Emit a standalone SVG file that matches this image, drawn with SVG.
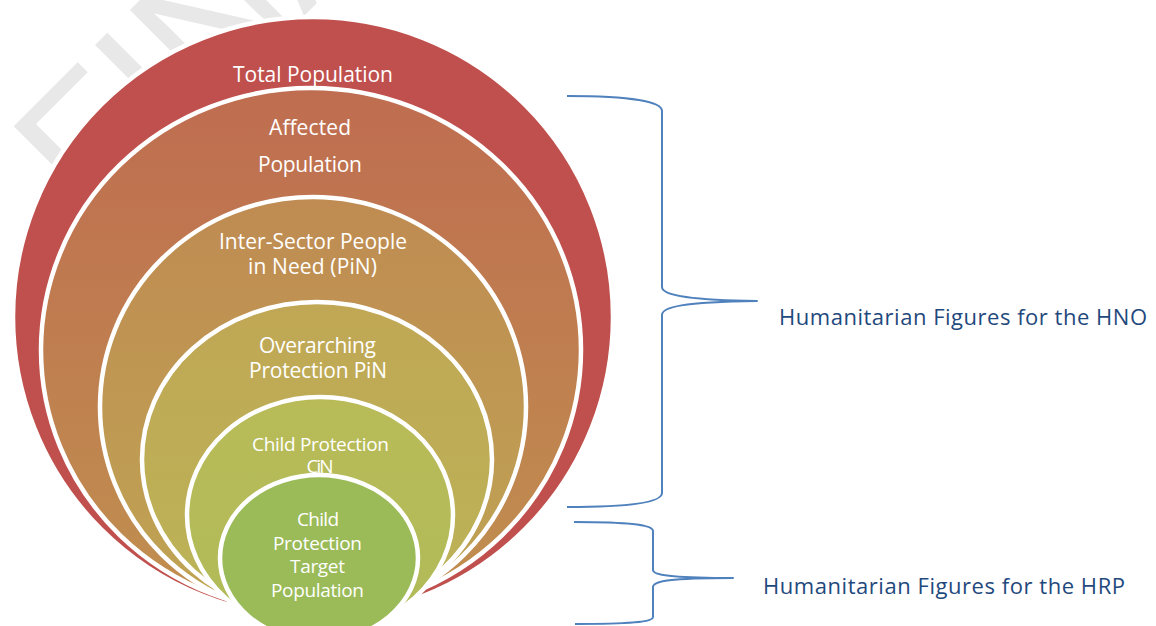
<svg xmlns="http://www.w3.org/2000/svg" width="1156" height="626" viewBox="0 0 1156 626">
  <defs>
    <linearGradient id="g-affected" x1="0" y1="0" x2="0" y2="1">
      <stop offset="0" stop-color="#BF6D50"/>
      <stop offset="1" stop-color="#C0904F"/>
    </linearGradient>
    <linearGradient id="g-intersector" x1="0" y1="0" x2="0" y2="1">
      <stop offset="0" stop-color="#BF8B52"/>
      <stop offset="1" stop-color="#BFA553"/>
    </linearGradient>
    <linearGradient id="g-overarching" x1="0" y1="0" x2="0" y2="1">
      <stop offset="0" stop-color="#C0A755"/>
      <stop offset="1" stop-color="#BBB457"/>
    </linearGradient>
    <linearGradient id="g-cin" x1="0" y1="0" x2="0" y2="1">
      <stop offset="0" stop-color="#B8BB58"/>
      <stop offset="1" stop-color="#B0BB58"/>
    </linearGradient>
  </defs>
  <style>
    .ring { stroke: #FFFFFF; stroke-width: 4.5; }
    .lbl { font-family: "Open Sans", "Liberation Sans", sans-serif; font-size: 21px; fill: #FFFFFF; text-anchor: middle; }
    .lbl-s { font-size: 19px; }
    .side { font-family: "Open Sans", "Liberation Sans", sans-serif; font-size: 22px; fill: #1F497D; }
    .brace { fill: none; stroke: #4F81BD; stroke-width: 2; stroke-linejoin: round; }
    .mark { font-family: "Liberation Sans", sans-serif; font-size: 185px; fill: #E8E8E8; }
  </style>

  <rect width="1156" height="626" fill="#FFFFFF"/>

  <!-- faint background stamp -->
  <g id="watermark">
    <text class="mark" transform="translate(93,227) rotate(-45)">FINAL</text>
  </g>

  <!-- nested population rings, outermost first -->
  <g id="node-total">
    <circle class="ring" cx="313" cy="317" r="300" fill="#C0504D"/>
    <text class="lbl" x="313" y="82" textLength="160">Total Population</text>
  </g>

  <g id="node-affected">
    <ellipse class="ring" cx="311" cy="350" rx="270" ry="262" fill="url(#g-affected)"/>
    <text class="lbl" x="310" y="135" textLength="82">Affected</text>
    <text class="lbl" x="310" y="172" textLength="104">Population</text>
  </g>

  <g id="node-intersector">
    <ellipse class="ring" cx="313" cy="406.8" rx="213" ry="209.8" fill="url(#g-intersector)"/>
    <text class="lbl" x="313" y="249" textLength="188">Inter-Sector People</text>
    <text class="lbl" x="312.5" y="274" textLength="129">in Need (PiN)</text>
  </g>

  <g id="node-overarching">
    <ellipse class="ring" cx="317" cy="459.5" rx="175" ry="157.5" fill="url(#g-overarching)"/>
    <text class="lbl" x="317.5" y="353" textLength="117">Overarching</text>
    <text class="lbl" x="318" y="378" textLength="138">Protection PiN</text>
  </g>

  <g id="node-cin">
    <ellipse class="ring" cx="320" cy="515" rx="133" ry="118" fill="url(#g-cin)"/>
    <text class="lbl lbl-s" x="320.5" y="451" textLength="137">Child Protection</text>
    <text class="lbl lbl-s" x="320" y="473" textLength="27">CiN</text>
  </g>

  <g id="node-target">
    <ellipse class="ring" cx="319" cy="558" rx="99" ry="83" fill="#9BBB59"/>
    <text class="lbl lbl-s" x="318" y="526" textLength="42">Child</text>
    <text class="lbl lbl-s" x="317.5" y="550" textLength="89">Protection</text>
    <text class="lbl lbl-s" x="317.5" y="573" textLength="55">Target</text>
    <text class="lbl lbl-s" x="317.5" y="597" textLength="93">Population</text>
  </g>

  <!-- curly braces grouping the rings -->
  <g id="connectors">
    <path class="brace" d="M567,96 C632,96 662,102 662,111 L662,287 C662,294 682,300 757,301 C682,302 662,307 662,315 L662,493 C662,502 632,507 567,507"/>
    <path class="brace" d="M574,522 C630,522 653,525 653,531 L653,570 C653,575 670,578 733,578 C670,578 653,581 653,587 L653,617 C653,622 630,624 575,624"/>
  </g>

  <g id="label-hno">
    <text class="side" x="779" y="325" textLength="368">Humanitarian Figures for the HNO</text>
  </g>

  <g id="label-hrp">
    <text class="side" x="763" y="594" textLength="362">Humanitarian Figures for the HRP</text>
  </g>
</svg>
